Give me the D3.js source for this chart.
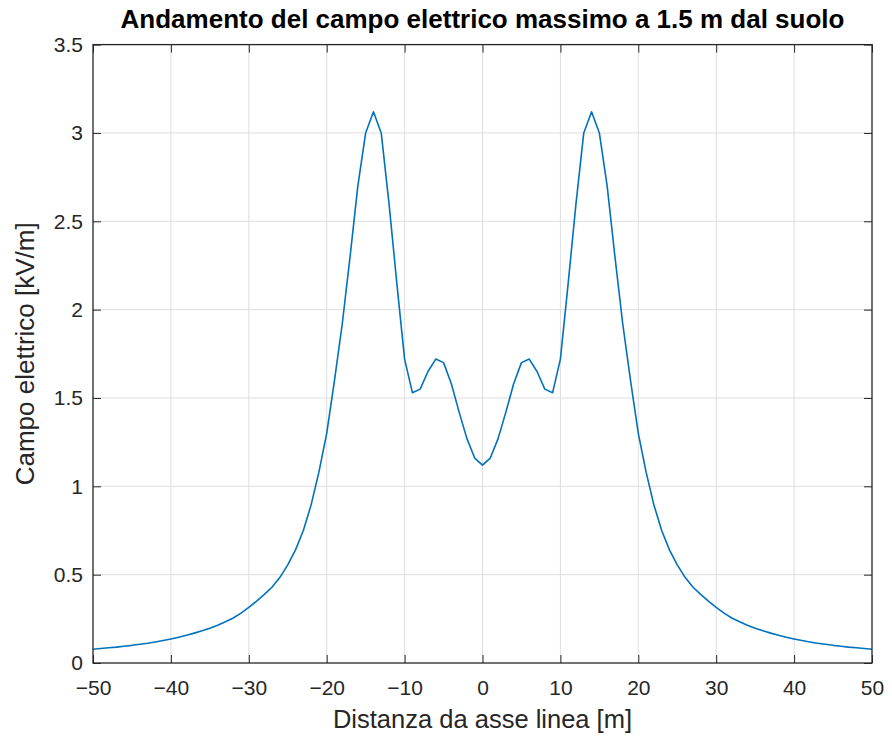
<!DOCTYPE html>
<html>
<head>
<meta charset="utf-8">
<script src="https://cdn.jsdelivr.net/npm/d3@7"></script>
<style>
  html, body { margin: 0; padding: 0; background: #fff; }
  svg { display: block; font-family: "Liberation Sans", Arial, Helvetica, sans-serif; }
</style>
</head>
<body>
<svg id="chart" width="892" height="740"></svg>
<script>
// Distance from line axis [m]
const distances = [
  -50,-49,-48,-47,-46,-45,-44,-43,-42,-41,
  -40,-39,-38,-37,-36,-35,-34,-33,-32,-31,
  -30,-29,-28,-27,-26,-25,-24,-23,-22,-21,
  -20,-19,-18,-17,-16,-15,-14,-13,-12,-11,
  -10,-9,-8,-7,-6,-5,-4,-3,-2,-1,
  0,
  1,2,3,4,5,6,7,8,9,10,
  11,12,13,14,15,16,17,18,19,20,
  21,22,23,24,25,26,27,28,29,30,
  31,32,33,34,35,36,37,38,39,40,
  41,42,43,44,45,46,47,48,49,50
];
// Maximum electric field [kV/m]
const fieldValues = [
  0.078,0.082,0.086,0.090,0.095,0.100,0.106,0.112,0.119,0.127,
  0.136,0.146,0.157,0.169,0.182,0.197,0.214,0.233,0.255,0.282,
  0.315,0.350,0.388,0.430,0.485,0.555,0.640,0.750,0.895,1.080,
  1.300,1.600,1.920,2.300,2.700,3.000,3.120,3.000,2.600,2.150,
  1.720,1.530,1.550,1.650,1.720,1.700,1.580,1.420,1.270,1.160,
  1.120,
  1.160,1.270,1.420,1.580,1.700,1.720,1.650,1.550,1.530,1.720,
  2.150,2.600,3.000,3.120,3.000,2.700,2.300,1.920,1.600,1.300,
  1.080,0.895,0.750,0.640,0.555,0.485,0.430,0.388,0.350,0.315,
  0.282,0.255,0.233,0.214,0.197,0.182,0.169,0.157,0.146,0.136,
  0.127,0.119,0.112,0.106,0.100,0.095,0.090,0.086,0.082,0.078
];
const xTicks = [-50,-40,-30,-20,-10,0,10,20,30,40,50];
const yTicks = [0,0.5,1,1.5,2,2.5,3,3.5];
const titleText = "Andamento del campo elettrico massimo a 1.5 m dal suolo";
const xLabelText = "Distanza da asse linea [m]";
const yLabelText = "Campo elettrico [kV/m]";

(function () {
const svg = d3.select("#chart");
const pL = 93, pR = 872, pT = 44.6, pB = 663;
const x = d3.scaleLinear().domain([-50, 50]).range([pL, pR]);
const y = d3.scaleLinear().domain([0, 3.5]).range([pB, pT]);

const axisColor = "#262626";
const fmt = v => (v < 0 ? "\u2212" + Math.abs(v) : String(v));

// grid
const grid = svg.append("g");
grid.selectAll("line.gx").data(xTicks.slice(1, -1)).join("line")
  .attr("x1", d => x(d)).attr("x2", d => x(d))
  .attr("y1", pT).attr("y2", pB)
  .attr("stroke", "#dedede").attr("stroke-width", 1);
grid.selectAll("line.gy").data(yTicks.slice(1, -1)).join("line")
  .attr("y1", d => y(d)).attr("y2", d => y(d))
  .attr("x1", pL).attr("x2", pR)
  .attr("stroke", "#dedede").attr("stroke-width", 1);

// data line
const line = d3.line().x((d, i) => x(distances[i])).y(d => y(d));
svg.append("path")
  .datum(fieldValues)
  .attr("d", line)
  .attr("fill", "none")
  .attr("stroke", "#0072BD")
  .attr("stroke-width", 1.6)
  .attr("stroke-linejoin", "round");

// axes (ticks inside)
const tl = 8;
svg.append("g").attr("transform", `translate(0,${pB})`)
  .call(d3.axisBottom(x).tickValues(xTicks).tickSize(-tl).tickPadding(17).tickFormat(fmt))
  .call(g => g.select(".domain").remove());
svg.append("g").attr("transform", `translate(0,${pT})`)
  .call(d3.axisTop(x).tickValues(xTicks).tickSize(-tl).tickFormat(""))
  .call(g => g.select(".domain").remove());
svg.append("g").attr("transform", `translate(${pL},0)`)
  .call(d3.axisLeft(y).tickValues(yTicks).tickSize(-tl).tickPadding(10).tickFormat(d => String(d)))
  .call(g => g.select(".domain").remove());
svg.append("g").attr("transform", `translate(${pR},0)`)
  .call(d3.axisRight(y).tickValues(yTicks).tickSize(-tl).tickFormat(""))
  .call(g => g.select(".domain").remove());

svg.selectAll(".tick line").attr("stroke", axisColor).attr("stroke-width", 1);
svg.selectAll(".tick text")
  .attr("fill", axisColor)
  .style("font-size", "21px")
  .style("font-family", "'Liberation Sans', Arial, sans-serif");

// box
svg.append("rect")
  .attr("x", pL).attr("y", pT)
  .attr("width", pR - pL).attr("height", pB - pT)
  .attr("fill", "none").attr("stroke", axisColor).attr("stroke-width", 1.3);

// title
svg.append("text")
  .attr("x", (pL + pR) / 2).attr("y", 28)
  .attr("text-anchor", "middle")
  .style("font-size", "26px").style("font-weight", "bold")
  .attr("fill", "#000")
  .text(titleText);

// x label
svg.append("text")
  .attr("x", (pL + pR) / 2).attr("y", 728)
  .attr("text-anchor", "middle")
  .style("font-size", "25.5px")
  .attr("fill", axisColor)
  .text(xLabelText);

// y label
svg.append("text")
  .attr("transform", `translate(34,${(pT + pB) / 2}) rotate(-90)`)
  .attr("text-anchor", "middle")
  .style("font-size", "26px")
  .attr("fill", axisColor)
  .text(yLabelText);
})();
</script>
</body>
</html>
